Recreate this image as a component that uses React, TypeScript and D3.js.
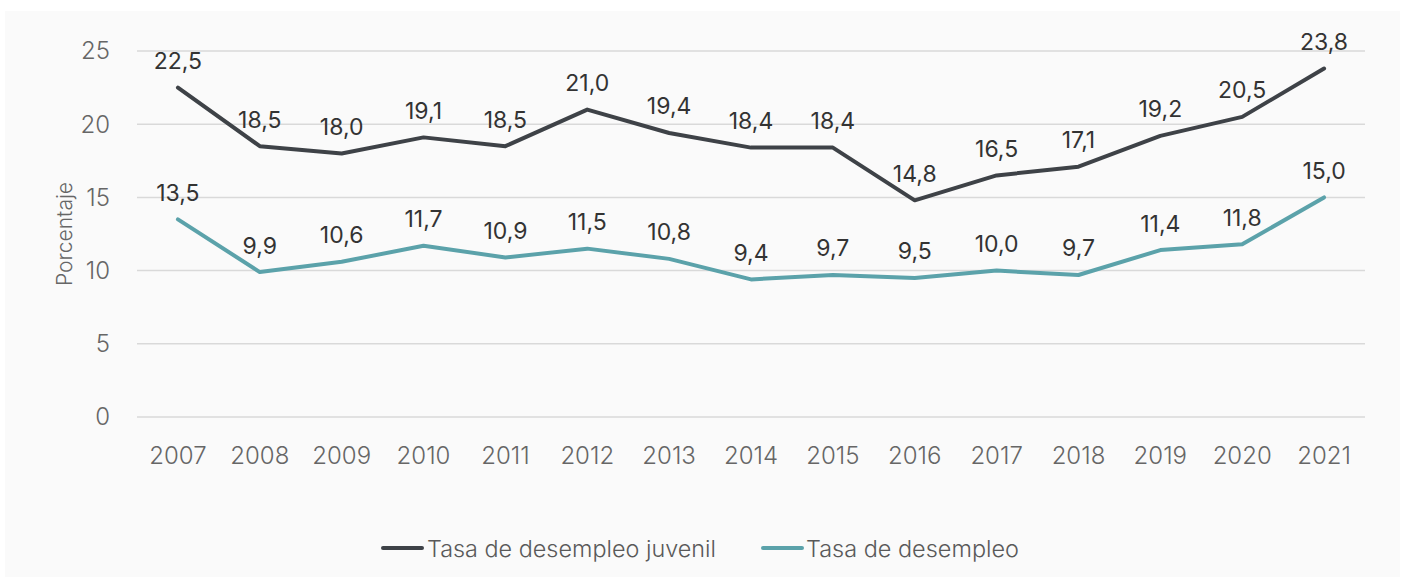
import React, { useEffect } from "react";
import * as d3 from "d3";

const years = ["2007","2008","2009","2010","2011","2012","2013","2014","2015","2016","2017","2018","2019","2020","2021"];
const juvenil = [22.5, 18.5, 18.0, 19.1, 18.5, 21.0, 19.4, 18.4, 18.4, 14.8, 16.5, 17.1, 19.2, 20.5, 23.8];
const desempleo = [13.5, 9.9, 10.6, 11.7, 10.9, 11.5, 10.8, 9.4, 9.7, 9.5, 10.0, 9.7, 11.4, 11.8, 15.0];
const yTicks = [0, 5, 10, 15, 20, 25];
const seriesNames = ["Tasa de desempleo juvenil", "Tasa de desempleo"];
const seriesColors = ["#3e4247", "#5ba2aa"];

const W = 1410, H = 580;
const left = 137, right = 1365, top = 51, bottom = 417;

export default function App() {
  useEffect(() => { document.body.style.margin = "0"; }, []);
  const x = d3.scaleBand<string>().domain(years).range([left, right]);
  const y = d3.scaleLinear().domain([0, 25]).range([bottom, top]);
  const cx = (yr: string) => (x(yr) as number) + x.bandwidth() / 2;
  const line = d3.line<number>().x((_, i) => cx(years[i])).y((v) => y(v));
  const fmt = (v: number) => v.toFixed(1).replace(".", ",");
  const series = [juvenil, desempleo];
  const font = "Inter, 'Noto Sans', sans-serif";

  const legendItems = [
    { x1: 383, x2: 422, tx: 427, tl: 289 },
    { x1: 763, x2: 802, tx: 806, tl: 213 },
  ];

  return (
    <svg width={W} height={H} style={{ position: "fixed", left: 0, top: 0, display: "block" }} fontFamily={font}>
      <rect x={0} y={0} width={W} height={H} fill="#ffffff" />
      <rect x={5} y={11} width={1395} height={566} fill="#fafafa" />
      {yTicks.map((t) => (
        <g key={t}>
          <line x1={left} x2={right} y1={y(t)} y2={y(t)} stroke="#d9d9d9" strokeWidth={1.5} />
          <text x={110} y={y(t)} dy="0.35em" textAnchor="end" fontSize={24} fontWeight={300} fill="#666">{t}</text>
        </g>
      ))}
      {years.map((yr) => (
        <text key={yr} x={cx(yr)} y={464} textAnchor="middle" fontSize={24} fontWeight={300} fill="#666">{yr}</text>
      ))}
      <text transform={`translate(72,234) rotate(-90)`} textAnchor="middle" fontSize={21} fontWeight={300} fill="#666">Porcentaje</text>
      {series.map((s, si) => (
        <path key={si} d={line(s) || ""} fill="none" stroke={seriesColors[si]} strokeWidth={4} strokeLinejoin="round" strokeLinecap="round" />
      ))}
      {series.map((s, si) =>
        s.map((v, i) => (
          <text key={`${si}-${i}`} x={cx(years[i])} y={y(v) - 18.5} textAnchor="middle" fontSize={23} fontWeight={400} fill="#333">{fmt(v)}</text>
        ))
      )}
      {legendItems.map((l, i) => (
        <g key={i}>
          <line x1={l.x1} x2={l.x2} y1={548} y2={548} stroke={seriesColors[i]} strokeWidth={4} strokeLinecap="round" />
          <text x={l.tx} y={556.5} fontSize={23} fontWeight={300} fill="#595959" textLength={l.tl} lengthAdjust="spacingAndGlyphs">{seriesNames[i]}</text>
        </g>
      ))}
    </svg>
  );
}
